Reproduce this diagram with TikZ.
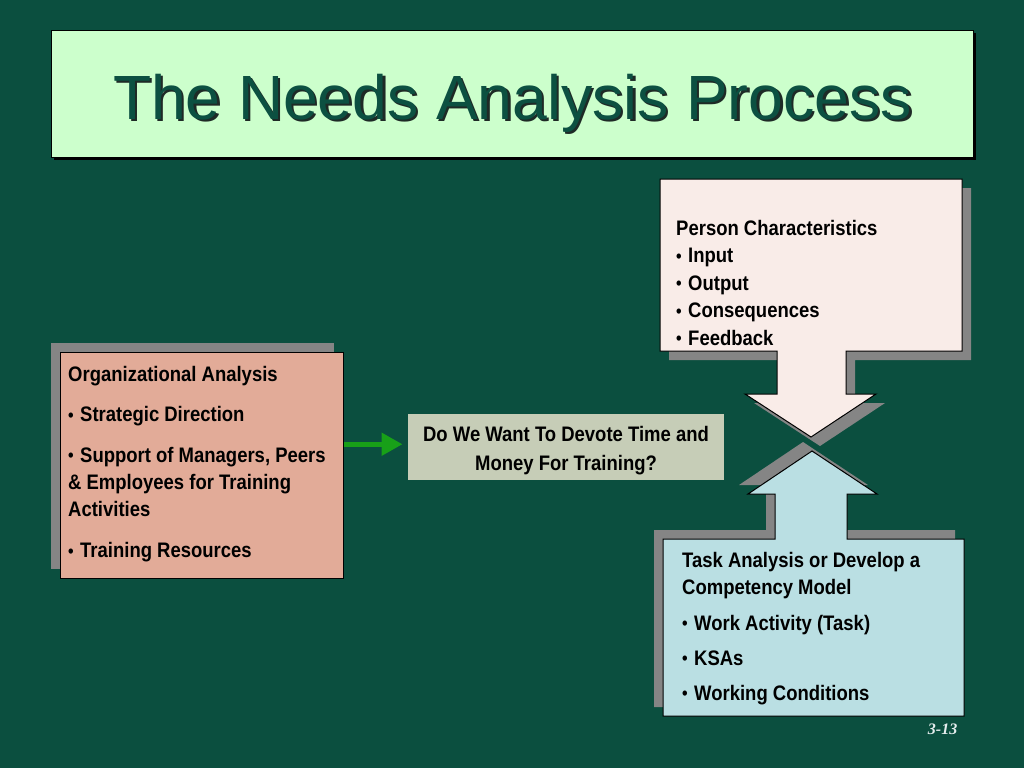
\documentclass[tikz,border=0pt]{standalone}
\usepackage{fontspec}
\usetikzlibrary{arrows.meta}
\newfontfamily\nb{Liberation Sans}[FakeStretch=0.88]
\newfontfamily\titlefont{Liberation Sans}
\newfontfamily\pgnum{Liberation Serif}
\definecolor{bg}{HTML}{0B4F3F}
\definecolor{titlefill}{HTML}{CCFFCC}
\definecolor{titletext}{HTML}{0C5041}
\definecolor{titleshadow}{HTML}{1E2A26}
\definecolor{pinkfill}{HTML}{F9ECE8}
\definecolor{bluefill}{HTML}{BADFE3}
\definecolor{salmon}{HTML}{E2AB98}
\definecolor{qfill}{HTML}{C6CDB7}
\definecolor{shadowgray}{HTML}{858585}
\definecolor{arrowgreen}{HTML}{18A018}
\definecolor{pagenum}{HTML}{E6EEEE}
\newcommand\mybul{\makebox[12pt][l]{\raisebox{0.4pt}{\fontsize{18}{18}\selectfont •}}}
\newcommand\mytitle{The Needs Analysis Process}
\tikzset{
  txt/.style={anchor=base west, inner sep=0pt, text=black,
    font=\nb\bfseries\fontsize{21}{25}\selectfont},
  ctxt/.style={txt, anchor=base},
  boxline/.style={draw=black, line width=1pt},
  shadowfill/.style={fill=shadowgray, draw=none},
  greenarrow/.style={draw=arrowgreen, line width=5pt,
    -{Triangle[length=21pt,width=22pt,fill=arrowgreen]}}
}
\begin{document}
\begin{tikzpicture}[x=1pt,y=-1pt]
\useasboundingbox (0,0) rectangle (1024,768);
\fill[bg] (0,0) rectangle (1024,768);

% title
\fill[black] (54,33) rectangle (976,160);
\node[draw=black, line width=1pt, fill=titlefill, anchor=north west,
  minimum width=922pt, minimum height=127pt, inner sep=0pt] (titlebox) at (51,30) {};
\node[anchor=base, inner sep=0pt, text=titletext,
  font=\titlefont\fontsize{62.5}{70}\selectfont] (title) at (512.5,119)
  {\makebox[0pt][l]{\hspace{2.5pt}\raisebox{-2.5pt}{\textcolor{titleshadow}{\mytitle}}}\mytitle};

% top shape (person characteristics) with down arrow
\begin{scope}[shift={(9,9)}]
\path[shadowfill] (660,179) -- (962,179) -- (962,351) -- (846,351) -- (846,394)
  -- (876,394) -- (811,437) -- (745,394) -- (777,394) -- (777,351) -- (660,351) -- cycle;
\end{scope}
% bottom shape shadow
\begin{scope}[shift={(-9,-9)}]
\path[shadowfill] (663,539) -- (775,539) -- (775,494) -- (748,494) -- (812,451)
  -- (877,494) -- (847,494) -- (847,539) -- (964,539) -- (964,716) -- (663,716) -- cycle;
\end{scope}
\path[boxline, fill=pinkfill] (660,179) -- (962,179) -- (962,351) -- (846,351) -- (846,394)
  -- (876,394) -- (811,437) -- (745,394) -- (777,394) -- (777,351) -- (660,351) -- cycle;
\path[boxline, fill=bluefill] (663,539) -- (775,539) -- (775,494) -- (748,494) -- (812,451)
  -- (877,494) -- (847,494) -- (847,539) -- (964,539) -- (964,716) -- (663,716) -- cycle;

\node[txt] (p1) at (676,235) {Person Characteristics};
\node[txt] (p2) at (676,262.5) {\mybul Input};
\node[txt] (p3) at (676,290) {\mybul Output};
\node[txt] (p4) at (676,317.5) {\mybul Consequences};
\node[txt] (p5) at (676,345) {\mybul Feedback};

\node[txt] (t1) at (682,567.5) {Task Analysis or Develop a};
\node[txt] (t2) at (682,594.5) {Competency Model};
\node[txt] (t3) at (682,630) {\mybul Work Activity (Task)};
\node[txt] (t4) at (682,665) {\mybul KSAs};
\node[txt] (t5) at (682,700) {\mybul Working Conditions};

% left box
\fill[shadowgray] (51,343) rectangle (334,569);
\node[boxline, fill=salmon, anchor=north west, minimum width=283pt,
  minimum height=226pt, inner sep=0pt] (org) at (60,352) {};
\node[txt] (o1) at (68,381) {Organizational Analysis};
\node[txt] (o2) at (68,421.5) {\mybul Strategic Direction};
\node[txt] (o3) at (68,462.3) {\mybul Support of Managers, Peers};
\node[txt] (o4) at (68,489.5) {\& Employees for Training};
\node[txt] (o5) at (68,516.8) {Activities};
\node[txt] (o6) at (68,557.5) {\mybul Training Resources};

% middle box
\node[fill=qfill, draw=none, anchor=north west, minimum width=316.5pt,
  minimum height=66.5pt, inner sep=0pt] (q) at (407.5,413.3) {};
\node[ctxt] (q1) at (566,441.7) {Do We Want To Devote Time and};
\node[ctxt] (q2) at (566,470) {Money For Training?};

% green arrow
\draw[greenarrow, shorten >=5pt] ([yshift=2.5pt]org.east |- q.west) -- ([yshift=2.5pt]q.west);

% page number
\node[anchor=base east, inner sep=0pt, text=pagenum,
  font=\pgnum\bfseries\itshape\fontsize{16}{18}\selectfont] (pg) at (957.5,734) {3-13};
\end{tikzpicture}
\end{document}
